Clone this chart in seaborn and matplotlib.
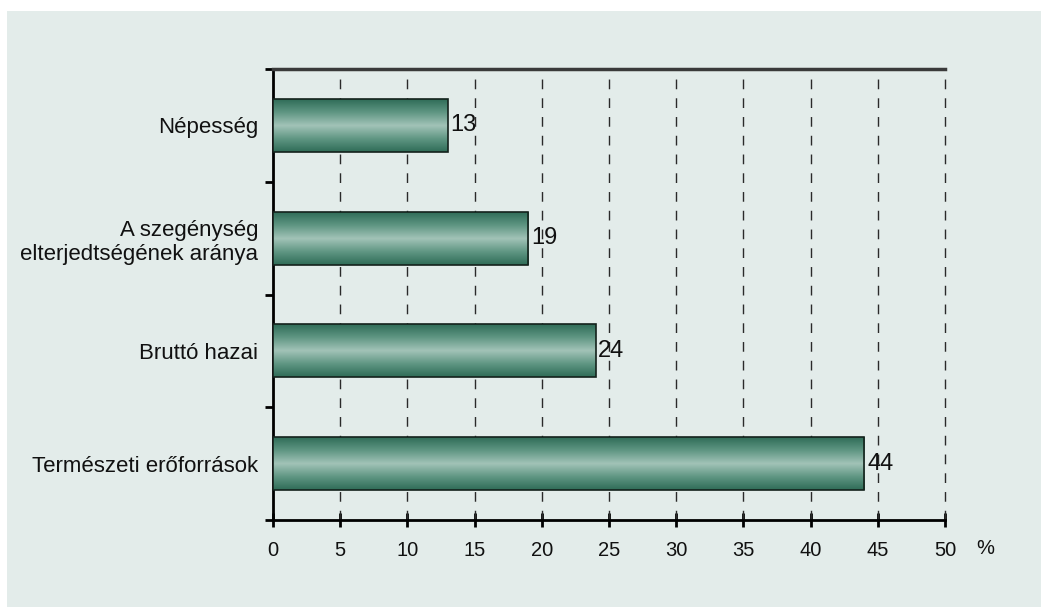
import numpy as np
import pandas as pd
import matplotlib
matplotlib.use("Agg")
import matplotlib.pyplot as plt
import seaborn as sns
from matplotlib.colors import LinearSegmentedColormap
from matplotlib.patches import Rectangle
from matplotlib.ticker import FixedLocator

categories = ["Népesség", "A szegénység\nelterjedtségének aránya", "Bruttó hazai", "Természeti erőforrások"]
values = [13, 19, 24, 44]
x_ticks = [0, 5, 10, 15, 20, 25, 30, 35, 40, 45, 50]
unit_label = "%"

sns.set_style("white")
plt.rcParams['font.family'] = ['Liberation Sans', 'DejaVu Sans']

W, H = 1041, 607
fig = plt.figure(figsize=(W / 100, H / 100), dpi=100)
fig.patch.set_facecolor('white')
fig.patches.append(Rectangle((7 / W, -0.1), 2, 1.1 - 11 / H, transform=fig.transFigure,
                             facecolor='#e3ecea', edgecolor='none', zorder=-10))

ax = fig.add_axes([273 / W, 1 - 520 / H, (945 - 273) / W, (520 - 69) / H])
ax.set_facecolor('none')

df = pd.DataFrame({'cat': categories, 'val': values})
sns.barplot(data=df, x='val', y='cat', orient='h', width=0.47, color='#5a9580',
            edgecolor='#14221c', linewidth=1.2, ax=ax, zorder=3)

cmap = LinearSegmentedColormap.from_list('g', ['#2f6c57', '#5f9683', '#a2c3b7', '#5f9683', '#2f6c57'])
grad = np.linspace(0, 1, 256).reshape(-1, 1)
for p in ax.patches:
    x0, y0 = p.get_x(), p.get_y()
    w, h = p.get_width(), p.get_height()
    im = ax.imshow(grad, cmap=cmap, aspect='auto', extent=(x0, x0 + w, y0 + h, y0),
                   zorder=3, interpolation='bilinear')
    im.set_clip_path(p)
    p.set_facecolor('none')
    p.set_zorder(4)

ax.set_xlim(0, 50)
ax.set_ylim(3.5, -0.5)

# dashed vertical gridlines
for t in x_ticks[1:]:
    ax.axvline(t, color='#2a2a2a', linewidth=1.0, dashes=(7, 6.5), zorder=1, clip_on=False)

ax.set_xticks(x_ticks)
ax.set_xticklabels([str(t) for t in x_ticks])
ax.tick_params(axis='x', which='major', bottom=True, top=False, direction='inout',
               length=10, width=2, color='black', labelsize=14.5, pad=10, labelcolor='#111111')
ax.yaxis.set_minor_locator(FixedLocator([-0.5, 0.5, 1.5, 2.5, 3.5]))
ax.tick_params(axis='y', which='major', left=True, length=0, pad=10.5, labelsize=16, labelcolor='#111111')
ax.tick_params(axis='y', which='minor', left=True, length=6, width=2, color='black', direction='out')
for lab in ax.get_yticklabels():
    lab.set_multialignment('right')

ax.set_xlabel('')
ax.set_ylabel('')

for s in ['left', 'bottom']:
    ax.spines[s].set_visible(True)
    ax.spines[s].set_color('black')
    ax.spines[s].set_linewidth(2)
ax.spines['top'].set_visible(True)
ax.spines['top'].set_color('#3a3a3a')
ax.spines['top'].set_linewidth(2.5)
ax.spines['right'].set_visible(False)

for i, v in enumerate(values):
    ax.text(v + 0.2, i, str(v), va='center', ha='left', fontsize=17, color='#111111', zorder=5)

ax.text(53, -(549 - 520) / 451, unit_label, transform=ax.get_xaxis_transform(),
        ha='center', va='center', fontsize=14.5, color='#111111')

fig.savefig('out.png', dpi=100)
